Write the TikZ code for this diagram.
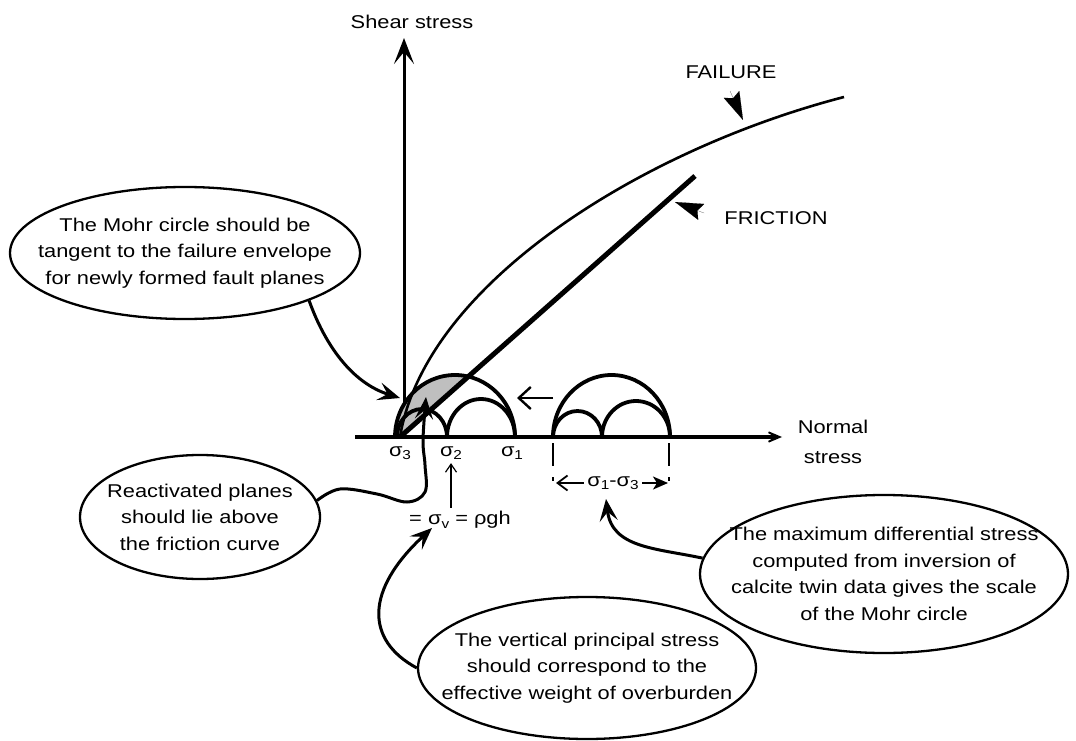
\documentclass[tikz,border=0pt]{standalone}
\usepackage{fontspec}
\setmainfont{Liberation Sans}[FakeStretch=1.18]
\usetikzlibrary{arrows.meta,shapes.geometric}

\newcommand\sidx[1]{\raisebox{-0.35ex}{\fontsize{13}{13}\selectfont #1}}

\begin{document}
\begin{tikzpicture}[x=1pt,y=-1pt,
    >={Stealth[length=22pt,width=18pt,inset=9pt]},
    every node/.style={font=\fontsize{18.5}{26.5}\selectfont},
    note/.style={ellipse,draw,line width=2.3pt,inner sep=0pt},
    mohr/.style={line width=3.8pt},
    callout/.style={->,line width=3pt},
    pointer/.style={-{Stealth[length=28pt,width=17pt,inset=4pt]},line width=0.1pt}]

    \useasboundingbox (0,0) rectangle (1076,741);

    % axes
    \coordinate (xl) at (355,437);
    \coordinate (xr) at (782,437);
    \coordinate (yb) at (404,437);
    \coordinate (yt) at (404,38);
    \draw[line width=3pt,-{Stealth[length=26pt,width=20pt,inset=12pt]}] (yb) -- (yt);
    \node (shearlbl) at (412,22) {Shear stress};
    \node[align=center] (normallbl) at (833,442) {Normal\\[3pt]stress};

    % shaded part of the Mohr circle above the friction line
    \begin{scope}
        \clip (455,437) ellipse [x radius=60,y radius=62];
        \fill[gray!50] (400,437) -- (695,176) -- (340,176) -- (340,437) -- cycle;
    \end{scope}

    % envelopes
    \coordinate (fricA) at (400,437);
    \coordinate (fricB) at (695,176);
    \coordinate (failA) at (400,437);
    \coordinate (failB) at (844,97);
    \draw[line width=5pt] (fricA) -- (fricB);
    \draw[line width=2.6pt] (failA) .. controls (425,285) and (640,150) .. (failB);

    % Mohr circles
    \foreach \a/\rx/\ry in {395/60/62, 397/25/28, 447/34/38, 553/58.5/62, 553/24.5/26, 602/34/36}
        \draw[mohr] (\a,437) arc[start angle=180,end angle=360,x radius=\rx,y radius=\ry];

    \draw[line width=3.8pt,-{Stealth[length=26pt,width=22pt,inset=19pt]}] (xl) -- (xr);

    \coordinate (shiftA) at (553,398);
    \coordinate (shiftB) at (517,398);
    \draw[line width=2.4pt,-{Straight Barb[length=12pt,width=22pt]}] (shiftA) -- (shiftB);

    % labels on the normal axis
    \node (s3) at (400,453) {σ\sidx{3}};
    \node (s2) at (451,453) {σ\sidx{2}};
    \node (s1) at (512,453) {σ\sidx{1}};
    \node (sv) at (460,520) {= σ\sidx{v} = ρgh};
    \draw[line width=1.2pt,-{Straight Barb[length=8pt,width=11pt]}] (sv.north -| s2.south) -- (s2.south);

    % differential stress
    \draw[line width=1.8pt] (553,443) -- (553,466) (669,443) -- (669,466);
    \draw[line width=1.2pt] (553,477) -- (553,481) (669,477) -- (669,481);
    \node (sdiff) at (613,483) {σ\sidx{1}-σ\sidx{3}};
    \coordinate (dl) at (556,483);
    \coordinate (dr) at (668,483);
    \draw[line width=1.8pt,-{Straight Barb[length=10pt,width=15pt]}] (sdiff.west) -- (dl);
    \draw[line width=1.8pt,-{Stealth[length=15pt,width=13pt,inset=4pt]}] (sdiff.east) -- (dr);

    % envelope names
    \node (failurelbl) at (731,72) {FAILURE};
    \node (frictionlbl) at (776,218) {FRICTION};
    \coordinate (failP) at (730,91);
    \coordinate (failT) at (743,120);
    \coordinate (fricP) at (704,213);
    \coordinate (fricT) at (675,202);
    \draw[pointer] (failP) -- (failT);
    \draw[pointer] (fricP) -- (fricT);

    % notes
    \node[note,minimum width=350pt,minimum height=132pt,
        label={[align=center]center:The Mohr circle should be\\tangent to the failure envelope\\for newly formed fault planes}]
        (mohrnote) at (185,253) {};
    \node[note,minimum width=240pt,minimum height=124pt,
        label={[align=center]center:Reactivated planes\\should lie above\\the friction curve}]
        (reactnote) at (200,517) {};
    \node[note,minimum width=338pt,minimum height=142pt,
        label={[align=center]center:The vertical principal stress\\should correspond to the\\effective weight of overburden}]
        (vertnote) at (587,668) {};
    \node[note,minimum width=368pt,minimum height=158pt,
        label={[align=center]center:The maximum differential stress\\computed from inversion of\\calcite twin data gives the scale\\of the Mohr circle}]
        (diffnote) at (884,574) {};

    \coordinate (mohrtip) at (400,398);
    \coordinate (reacttip) at (426,397);
    \coordinate (vtip) at (432,528);
    \coordinate (difftip) at (606,499);
    \draw[callout] (mohrnote.-21) .. controls (325,345) and (352,383) .. (mohrtip);
    \draw[callout] plot[smooth,tension=0.6] coordinates {(reactnote.8) (340,489) (377,494)
        (407,502) (425,492) (425,465) (423,440) (reacttip)};
    \draw[callout] (vertnote.west) .. controls (365,640) and (365,590) .. (vtip);
    \draw[callout] (diffnote.175) .. controls (655,548) and (612,548) .. (difftip);
\end{tikzpicture}
\end{document}
